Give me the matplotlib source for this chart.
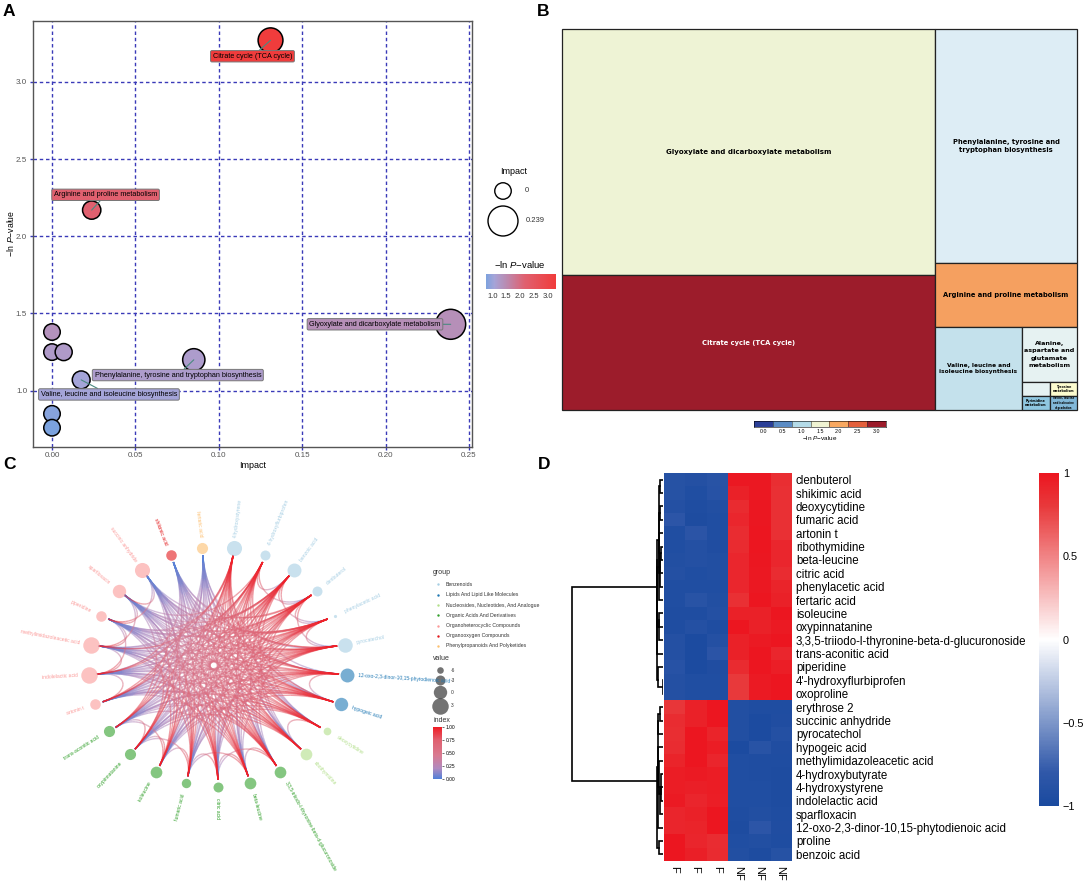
#!/usr/bin/env python3

import matplotlib
matplotlib.use('Agg')
import matplotlib.pyplot as plt
import numpy as np
from itertools import combinations
from matplotlib.collections import LineCollection
from matplotlib.colors import LinearSegmentedColormap, Normalize
from matplotlib.cm import ScalarMappable

FIG_W, FIG_H = 1084, 886

plt.rcParams['font.family'] = ['Liberation Sans', 'DejaVu Sans']
plt.rcParams['mathtext.fontset'] = 'custom'
plt.rcParams['mathtext.rm'] = 'Liberation Sans'
plt.rcParams['mathtext.it'] = 'Liberation Sans:italic'

# panel A
path_impact = [0.131, 0.0238, 0.239, 0.085, 0.0175, 0.0, 0.0, 0.007, 0.0, 0.0]
path_logp = [3.27, 2.17, 1.43, 1.20, 1.07, 1.38, 1.25, 1.25, 0.85, 0.76]
path_labels = ['Citrate cycle (TCA cycle)', 'Arginine and proline metabolism',
               'Glyoxylate and dicarboxylate metabolism',
               'Phenylalanine, tyrosine and tryptophan biosynthesis',
               'Valine, leucine and isoleucine biosynthesis']
# label pairs: first the bubble it names, then its shift in points
label_points = [0, 1, 2, 3, 4]
label_offsets = [(-13, -11.5), (10, 11), (-54.5, 0), (-11.5, -11), (20, -10.5)]

# panel B
tree_names = ['Glyoxylate and dicarboxylate metabolism', 'Citrate cycle (TCA cycle)',
              'Phenylalanine, tyrosine and\ntryptophan biosynthesis',
              'Arginine and proline metabolism',
              'Valine, leucine and\nisoleucine biosynthesis',
              'Alanine,\naspartate and\nglutamate\nmetabolism', '',
              'Tyrosine\nmetabolism', 'Pyrimidine\nmetabolism',
              'Valine, leucine\nand isoleucine\ndegradation']
tree_area = [91758, 50355, 33228, 9088, 7221, 3025, 392, 378, 392, 378]
tree_logp = [1.43, 3.27, 1.20, 2.17, 1.07, 1.30, 1.30, 1.60, 0.85, 0.76]
tree_font = [5.0, 4.9, 4.9, 4.9, 4.2, 4.6, 3, 2.3, 2.3, 1.8]
# nested splits: first list is cut across x, next across y, and so on
tree_split = [[0, 1], [2, 3, [4, [5, [[6, 8], [7, 9]]]]]]
tree_legend = ['0.0', '0.5', '1.0', '1.5', '2.0', '2.5', '3.0']
tree_legend_colors = ['#2b3f97', '#5b8cc5', '#b4dbe8', '#eff3d2', '#f8a860', '#e4603c', '#9c1c2b']

# panel C, counter-clockwise from the top
net_names = ['fertaric acid', 'shikimic acid', 'succinic anhydride', 'sparfloxacin', 'piperidine',
             'methylimidazoleacetic acid', 'indolelactic acid', 'artonin t', 'trans-aconitic acid',
             'oxypinnatanine', 'isoleucine', 'fumaric acid', 'citric acid', 'beta-leucine',
             '3,3,5-triiodo-l-thyronine-beta-d-glucuronoside', 'ribothymidine', 'deoxycytidine',
             'hypogeic acid', '12-oxo-2,3-dinor-10,15-phytodienoic acid', 'pyrocatechol',
             'phenylacetic acid', 'clenbuterol', 'benzoic acid', "4'-hydroxyflurbiprofen",
             '4-hydroxystyrene']
net_group = [6, 5, 4, 4, 4, 4, 4, 4, 3, 3, 3, 3, 3, 3, 3, 2, 2, 1, 1, 0, 0, 0, 0, 0, 0]
net_value = [-2, -2.5, 1.5, 0, -2.5, 3, 3, -2.5, -2, -2, -1.5, -3.5, -3, -1.5, -1.5, -1.5,
             -5, 0, 0.5, 1, -9, -3, 0.5, -3, 1.5]
# shallow arcs seen between close neighbours round the rim
rim_pairs = [(19, 20), (19, 21), (20, 21), (20, 22), (21, 22), (22, 23), (21, 23), (17, 18), (15, 16),
             (3, 4), (3, 5), (4, 5), (4, 6), (5, 6), (6, 7), (2, 3), (2, 4), (8, 9), (9, 10), (10, 11),
             (11, 12), (11, 13), (12, 13), (13, 14), (9, 11), (8, 10), (12, 14)]
group_names = ['Benzenoids', 'Lipids And Lipid Like Molecules',
               'Nucleosides, Nucleotides, And Analogue', 'Organic Acids And Derivatives',
               'Organoheterocyclic Compounds', 'Organooxygen Compounds',
               'Phenylpropanoids And Polyketides']
group_colors = ['#a6cee3', '#1f78b4', '#b2df8a', '#33a02c', '#fb9a99', '#e31a1c', '#fdbf6f']
value_ticks = [-6, -3, 0, 3]

# panel D
heat_rows = ['clenbuterol', 'shikimic acid', 'deoxycytidine', 'fumaric acid', 'artonin t',
             'ribothymidine', 'beta-leucine', 'citric acid', 'phenylacetic acid', 'fertaric acid',
             'isoleucine', 'oxypinnatanine', '3,3,5-triiodo-l-thyronine-beta-d-glucuronoside',
             'trans-aconitic acid', 'piperidine', "4'-hydroxyflurbiprofen", 'oxoproline',
             'erythrose 2', 'succinic anhydride', 'pyrocatechol', 'hypogeic acid',
             'methylimidazoleacetic acid', '4-hydroxybutyrate', '4-hydroxystyrene',
             'indolelactic acid', 'sparfloxacin', '12-oxo-2,3-dinor-10,15-phytodienoic acid',
             'proline', 'benzoic acid']
heat_cols = ['F', 'F', 'F', 'NF', 'NF', 'NF']
heat_values = [
    [-.88, -.90, -.86, .98, .98, .86], [-.88, -.93, -.87, .93, .98, .85],
    [-.90, -.95, -.92, .88, .99, .85], [-.83, -.96, -.93, .90, .99, .85],
    [-.93, -.84, -.93, .87, 1.0, .85], [-.93, -.90, -.94, .88, 1.0, .90],
    [-.92, -.90, -.92, .90, .99, .90], [-.90, -.93, -.92, .90, .98, .87],
    [-.93, -.93, -.93, .90, .98, .92], [-.93, -.86, -.92, .85, 1.0, .93],
    [-.95, -.95, -.90, .93, .93, 1.0], [-.95, -.90, -.95, 1.0, .93, .97],
    [-.90, -.97, -.90, .93, .97, 1.0], [-.90, -.97, -.84, .93, 1.0, .90],
    [-.87, -.97, -.94, .88, 1.0, .95], [-.90, -.93, -.93, .80, .97, 1.0],
    [-.90, -.93, -.93, .80, .97, 1.0],
    [.82, .93, 1.0, -.92, -.95, -.95], [.87, .93, 1.0, -.92, -.97, -.94],
    [.86, 1.0, .92, -.92, -.97, -.90], [.87, 1.0, .96, -.97, -.86, -.94],
    [.92, 1.0, .91, -.93, -.95, -.95], [.96, .97, .96, -.93, -.95, -.96],
    [.96, .94, .96, -.93, -.93, -.96], [.97, .91, .95, -.93, -.93, -.96],
    [.91, .93, 1.0, -.95, -.92, -.95], [.91, .92, 1.0, -.96, -.83, -.94],
    [1.0, .91, .87, -.93, -.92, -.95], [1.0, .94, .88, -.92, -.96, -.88],
]


def px_axes(fig, left, top, right, bottom):
    return fig.add_axes([left / FIG_W, 1 - bottom / FIG_H, (right - left) / FIG_W, (bottom - top) / FIG_H])


def overlay_text(x, y, s, **kw):
    # figure text placed in reference pixel coordinates
    return fig.text(x / FIG_W, 1 - y / FIG_H, s, **kw)


def draw_panel_a(fig):
    ax = px_axes(fig, 32.6, 21, 471.7, 446.7)
    ax.set_xlim(-0.01163, 0.2516)
    ax.set_ylim(0.637, 3.395)
    lo, hi = 0.76, 3.27
    stops = [(0.76, '#7ba2de'), (1.07, '#a5a4d8'), (1.2, '#ad9ccb'), (1.43, '#b68fb8'), (2.17, '#e0606f'), (3.27, '#f03c3c')]
    cmap = LinearSegmentedColormap.from_list('pv', [((v - lo) / (hi - lo), c) for v, c in stops])
    norm = Normalize(lo, hi)
    sizes = [141 + 325 * v / 0.239 for v in path_impact]
    ax.grid(True, color='#3a3ab8', ls=(0, (2.5, 2)), lw=1.0, zorder=1)
    ax.set_axisbelow(True)
    ax.scatter(path_impact, path_logp, s=sizes, c=path_logp, cmap=cmap, norm=norm,
               edgecolors='black', linewidths=1.1, zorder=3, clip_on=False)
    for i, label in zip(label_points, path_labels):
        ax.annotate(label, (path_impact[i], path_logp[i]), xytext=label_offsets[i],
                    textcoords='offset points', ha='center', va='center', fontsize=5.25, zorder=5,
                    bbox=dict(boxstyle='round,pad=0.3,rounding_size=0.2', fc=cmap(norm(path_logp[i])),
                              ec='#777777', lw=0.7),
                    arrowprops=dict(arrowstyle='-', color='#4a8a80', lw=0.8, shrinkA=0, shrinkB=0))
    ax.set_xticks([0, 0.05, 0.10, 0.15, 0.20, 0.25], ['0.00', '0.05', '0.10', '0.15', '0.20', '0.25'])
    ax.set_yticks([1.0, 1.5, 2.0, 2.5, 3.0])
    ax.tick_params(labelsize=5.8, labelcolor='#555555', color='#3a3ab8', length=2.5, width=1, pad=1.5)
    for spine in ax.spines.values():
        spine.set_color('#555555')
        spine.set_linewidth(1.0)
    ax.set_xlabel('Impact', fontsize=6.5, labelpad=1)
    ax.set_ylabel(r'$-$ln $\it{P}$$-$value', fontsize=6.2, labelpad=0)

    # bubble size and colour keys
    key = px_axes(fig, 478, 160, 570, 310)
    key.set_xlim(478, 570)
    key.set_ylim(310, 160)
    key.axis('off')
    key.text(514, 171, 'Impact', fontsize=6.5, ha='center', va='center')
    key.scatter([503, 503], [191, 221], s=[141, 466], facecolors='white', edgecolors='black', linewidths=1)
    key.text(525, 191, '0', fontsize=5.5, va='center', color='#333333')
    key.text(526, 221, '0.239', fontsize=5.5, va='center', color='#333333')
    key.text(520, 265, r'$-$ln $\it{P}$$-$value', fontsize=6.8, ha='center', va='center')
    bar = px_axes(fig, 485.6, 274, 555.5, 289)
    fig.colorbar(ScalarMappable(norm=norm, cmap=cmap), cax=bar, orientation='horizontal')
    bar.set_xticks([1.0, 1.5, 2.0, 2.5, 3.0])
    bar.tick_params(labelsize=5.5, length=0, pad=3, labelcolor='#333333')
    bar.xaxis.set_ticks_position('bottom')
    for spine in bar.spines.values():
        spine.set_visible(False)


def split_tree(node, x0, y0, x1, y1, horizontal, out):
    # cut a rectangle in proportion to the areas under each child
    if isinstance(node, int):
        out[node] = (x0, y0, x1, y1)
        return tree_area[node]

    def total(n):
        return tree_area[n] if isinstance(n, int) else sum(total(c) for c in n)
    whole = total(node)
    pos = x0 if horizontal else y0
    for child in node:
        frac = total(child) / whole
        if horizontal:
            end = pos + frac * (x1 - x0)
            split_tree(child, pos, y0, end, y1, False, out)
        else:
            end = pos + frac * (y1 - y0)
            split_tree(child, x0, pos, x1, end, True, out)
        pos = end
    return whole


def draw_panel_b(fig):
    ax = px_axes(fig, 562, 29, 1077, 410)
    ax.set_xlim(0, 1)
    ax.set_ylim(1, 0)
    ax.axis('off')
    cmap = LinearSegmentedColormap.from_list(
        'tree', [(0, '#2b3f97'), (0.5 / 3.27, '#5b8cc5'), (0.85 / 3.27, '#90c8e0'), (1.07 / 3.27, '#c5e2ec'),
                 (1.2 / 3.27, '#deeef6'), (1.3 / 3.27, '#e6f2f2'), (1.43 / 3.27, '#eef3d3'), (1.6 / 3.27, '#fdfcd0'),
                 (2.17 / 3.27, '#f5a05f'), (2.6 / 3.27, '#e4603c'), (1, '#9c1c2b')])
    # the two columns hold the outer split, so the first level cuts across x
    rects = {}
    split_tree(tree_split, 0, 0, 1, 1, True, rects)
    for i, name in enumerate(tree_names):
        x0, y0, x1, y1 = rects[i]
        ax.fill([x0, x1, x1, x0], [y0, y0, y1, y1], fc=cmap(tree_logp[i] / 3.27), ec='#222222', lw=0.9, clip_on=False)
        ax.text((x0 + x1) / 2, (y0 + y1) / 2, name, ha='center', va='center', fontsize=tree_font[i],
                family='DejaVu Sans', fontweight='bold', color='white' if i == 1 else 'black',
                linespacing=1.55 if i == 5 else 1.3)
    bar = px_axes(fig, 754, 421, 886, 427)
    bar.imshow([list(range(7))], aspect='auto', extent=(-0.5, 6.5, 0, 1),
               cmap=LinearSegmentedColormap.from_list('legend', tree_legend_colors, N=7))
    bar.vlines(np.arange(6) + 0.5, 0, 1, color='#333333', lw=0.4)
    bar.set_yticks([])
    bar.set_xticks(range(7), tree_legend)
    bar.tick_params(labelsize=3.8, length=0, pad=1.5)
    for spine in bar.spines.values():
        spine.set_linewidth(0.4)
    overlay_text(820, 438, r'$-$ln $\it{P}$$-$value', fontsize=4.6, ha='center', va='center')


def draw_panel_c(fig):
    ax = px_axes(fig, 0, 465, 540, 886)
    ax.set_xlim(0, 540)
    ax.set_ylim(886, 465)
    ax.axis('off')
    cx, cy, rx, ry = 218, 667, 129, 120
    cmap = LinearSegmentedColormap.from_list(
        'idx', [(0, '#4f7fd8'), (0.2, '#b08ac0'), (0.45, '#d87a90'), (0.75, '#e0606f'), (1, '#f01c24')])
    n = len(net_names)
    theta = np.radians(97.2 + 14.4 * np.arange(n))
    px, py = np.cos(theta), -np.sin(theta)
    # the bundle's hub sits a little left of and above the ring's centre
    hub_x, hub_y = -0.07, -0.03
    pulls = [0.30, 0.38, 0.46, 0.34, 0.42]

    # every edge runs blue to red along its length; far pairs bend through the hub
    t = np.linspace(0, 1, 25)
    pairs = [(i, j, pulls[(3 * i + j) % 5]) for i, j in combinations(range(n), 2) if min(j - i, n - j + i) >= 5]
    pairs += [(i, j, 0.72) for i, j in rim_pairs]
    segments, colors = [], []
    for i, j, pull in pairs:
        a = (1 - t) ** 3
        b = t ** 3
        c1 = 3 * (1 - t) ** 2 * t
        c2 = 3 * (1 - t) * t ** 2
        ex = a * px[i] + b * px[j] + c1 * (hub_x + pull * (px[i] - hub_x)) + c2 * (hub_x + pull * (px[j] - hub_x))
        ey = a * py[i] + b * py[j] + c1 * (hub_y + pull * (py[i] - hub_y)) + c2 * (hub_y + pull * (py[j] - hub_y))
        pts = np.column_stack([cx + rx * 0.94 * ex, cy + ry * 0.94 * ey])
        segments.extend(np.stack([pts[:-1], pts[1:]], axis=1))
        colors.extend((t[:-1] + t[1:]) / 2)
    colors = np.array(colors)
    order = np.argsort(colors, kind='stable')
    lines = LineCollection([segments[k] for k in order], array=colors[order], cmap=cmap, norm=Normalize(0, 1),
                           linewidths=1.0, alpha=0.55, zorder=2)
    ax.add_collection(lines)

    def size_of(v):
        return np.clip(3.2 + 0.55 * (v + 6), 0.4, 8) ** 2 * 2.2

    for i, name in enumerate(net_names):
        color = group_colors[net_group[i]]
        ax.scatter(cx + rx * px[i], cy + ry * py[i], s=size_of(net_value[i]), color=color, alpha=0.6,
                   linewidths=0, zorder=3)
        deg = np.degrees(theta[i]) % 360
        left_side = 90 < deg < 270
        ax.text(cx + rx * 1.09 * px[i], cy + ry * 1.09 * py[i], name, fontsize=3.6, color=color,
                rotation=deg + 180 if left_side else deg, rotation_mode='anchor',
                ha='right' if left_side else 'left', va='center', zorder=4)

    ax.text(433, 573, 'group', fontsize=5, va='center', color='#333333')
    for k, name in enumerate(group_names):
        y = [584, 594.5, 605, 615, 625.5, 636, 645.5][k]
        ax.scatter(438, y, s=3, color=group_colors[k], linewidths=0)
        ax.text(445.5, y, name, fontsize=3.7, va='center', color='#333333')
    ax.text(433, 658.6, 'value', fontsize=5, va='center', color='#333333')
    for v, y in zip(value_ticks, [670, 680, 692, 705.5]):
        ax.scatter(440, y, s=size_of(v), color='#444444', alpha=0.75, linewidths=0)
        ax.text(451, y, str(v), fontsize=3.5, va='center', color='#333333')
    ax.text(433, 720, 'index', fontsize=5, va='center', color='#333333')
    bar = px_axes(fig, 433, 727, 442, 779)
    fig.colorbar(ScalarMappable(norm=Normalize(0, 1), cmap=cmap), cax=bar)
    bar.set_yticks([0, 0.25, 0.5, 0.75, 1.0], ['0.00', '0.25', '0.50', '0.75', '1.00'])
    bar.tick_params(labelsize=3.5, length=1.5, width=0.4, pad=1)
    for spine in bar.spines.values():
        spine.set_visible(False)


def draw_row_dendrogram(ax, values):
    # average-link merging of neighbouring rows; rows keep their order
    clusters = [dict(mean=np.array(r, float), n=1, y=i + 0.5, h=0.0) for i, r in enumerate(values)]
    merged = []
    while len(clusters) > 1:
        dists = [np.linalg.norm(a['mean'] - b['mean']) for a, b in zip(clusters, clusters[1:])]
        k = int(np.argmin(dists))
        a, b = clusters[k], clusters[k + 1]
        h = max(dists[k], a['h'], b['h'])
        merged.append((a['y'], a['h'], b['y'], b['h'], h))
        n = a['n'] + b['n']
        clusters[k:k + 2] = [dict(mean=(a['mean'] * a['n'] + b['mean'] * b['n']) / n, n=n,
                                  y=(a['y'] * a['n'] + b['y'] * b['n']) / n, h=h)]
    # compressed height scale, the small branches would vanish otherwise
    for y0, h0, y1, h1, h in merged:
        ax.plot(np.array([h0, h, h, h1]) ** 0.8, [y0, y0, y1, y1], color='black', lw=1.2,
                solid_joinstyle='miter')
    ax.set_xlim(merged[-1][-1] ** 0.8 * 1.012, 0)
    ax.set_ylim(len(values), 0)
    ax.axis('off')


def draw_panel_d(fig):
    ax = px_axes(fig, 663.7, 473, 791, 861)
    cmap = LinearSegmentedColormap.from_list(
        'heat', [(0, '#1a4a9f'), (0.1, '#3058a9'), (0.5, '#ffffff'), (0.9, '#e83a3c'), (1, '#ec1620')])
    im = ax.imshow(heat_values, aspect='auto', cmap=cmap, vmin=-1, vmax=1, interpolation='nearest')
    ax.set_xticks(range(len(heat_cols)), heat_cols, rotation=270, fontsize=8)
    ax.yaxis.tick_right()
    ax.set_yticks(range(len(heat_rows)), heat_rows, fontsize=8.3)
    ax.tick_params(length=0, pad=3.5)
    for spine in ax.spines.values():
        spine.set_visible(False)

    dendro = px_axes(fig, 570.7, 473, 663, 861)
    draw_row_dendrogram(dendro, heat_values)

    bar = px_axes(fig, 1039, 473, 1059, 806)
    fig.colorbar(im, cax=bar)
    bar.set_yticks([-1, -0.5, 0, 0.5, 1], ['\u22121', '\u22120.5', '0', '0.5', '1'])
    bar.tick_params(labelsize=7.8, length=0, pad=2.8)
    for spine in bar.spines.values():
        spine.set_visible(False)


fig = plt.figure(figsize=(FIG_W / 100, FIG_H / 100), dpi=100)

draw_panel_a(fig)
draw_panel_b(fig)
draw_panel_c(fig)
draw_panel_d(fig)

for letter, x, y in [('A', 3, 12), ('B', 537, 12), ('C', 3, 465), ('D', 538, 465)]:
    overlay_text(x, y, letter, fontsize=12.5, fontweight='bold', va='center')

fig.savefig('out.png', dpi=100)
plt.close(fig)
